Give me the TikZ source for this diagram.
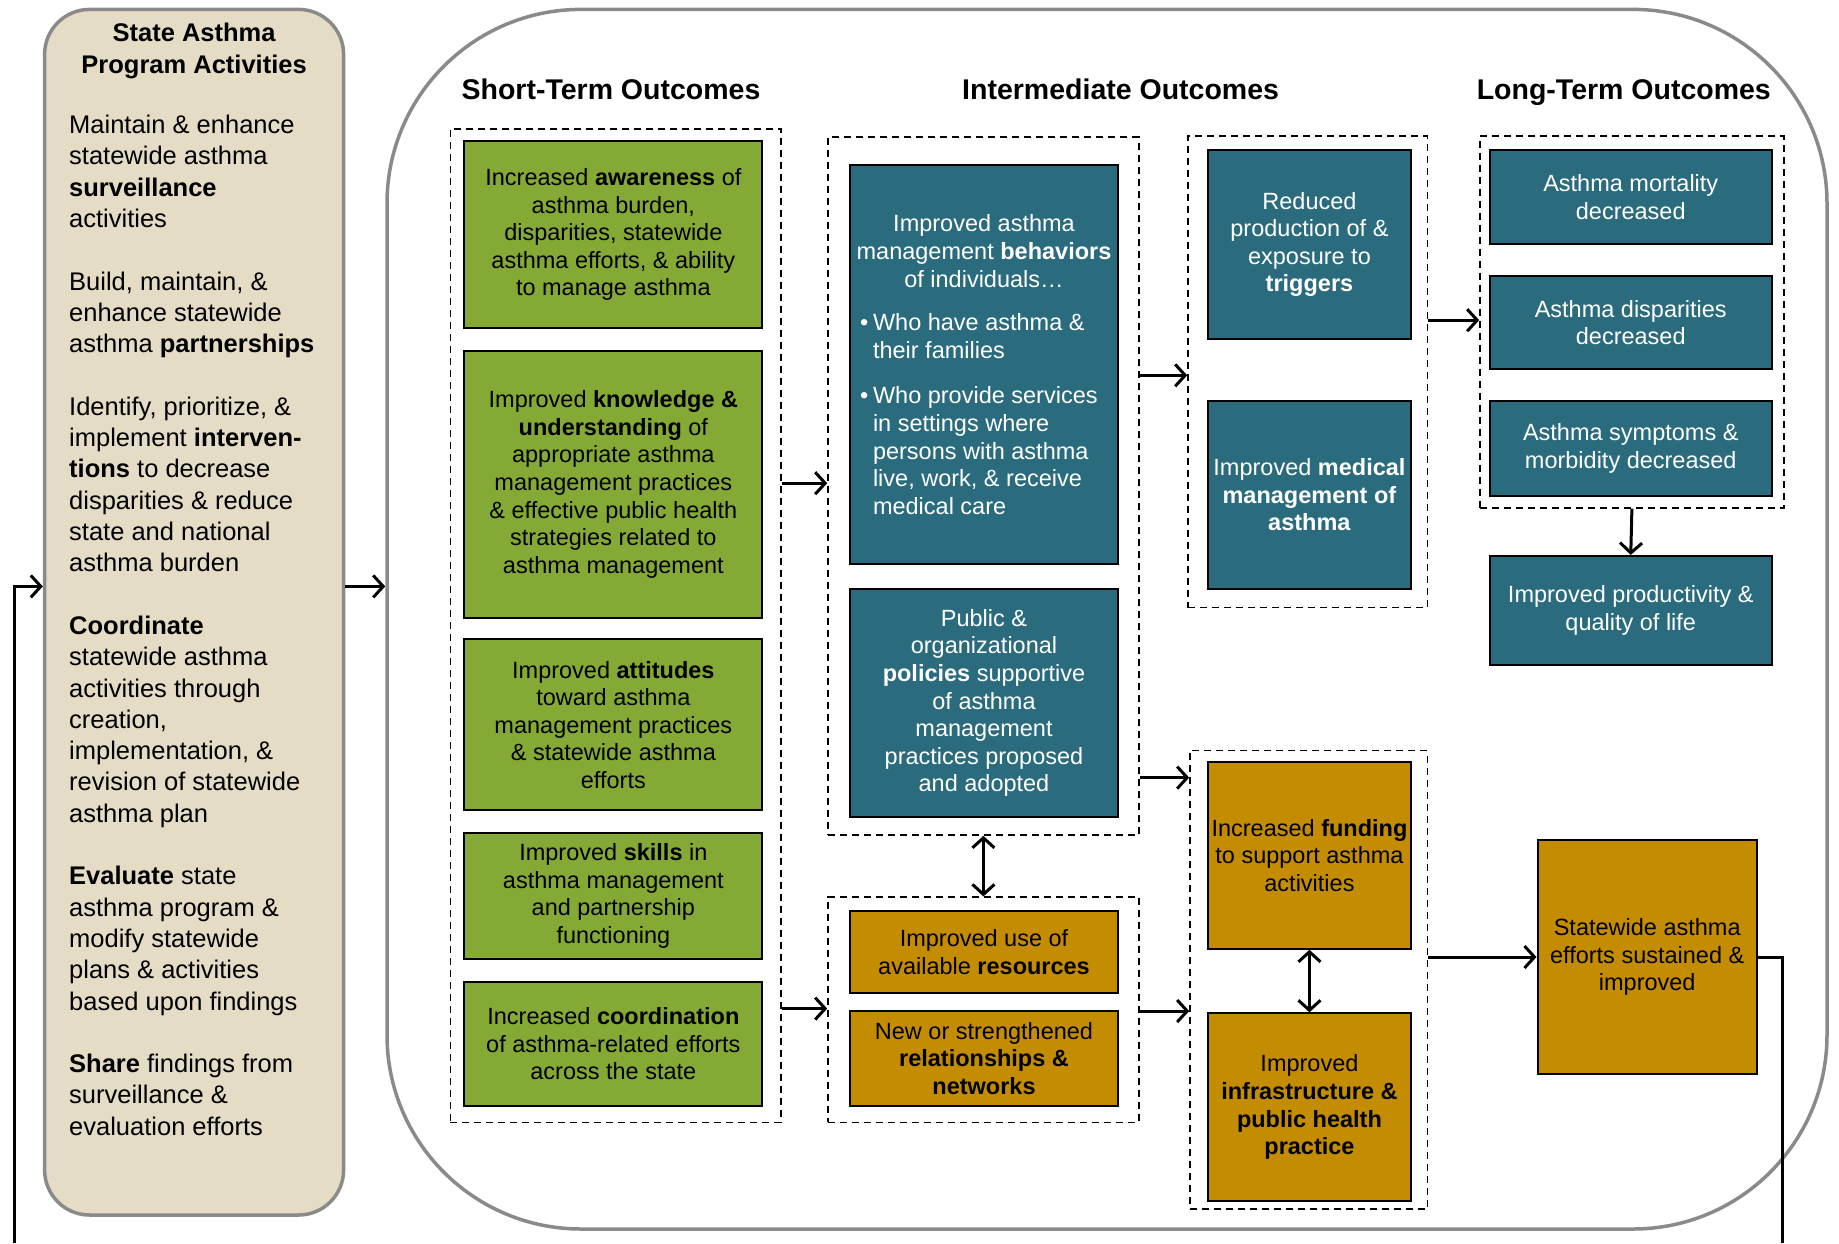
\documentclass[tikz,border=0pt]{standalone}
\usepackage{fontspec}
\setmainfont{Liberation Sans}
\usetikzlibrary{arrows.meta}
\definecolor{grn}{HTML}{85A935}
\definecolor{tealc}{HTML}{2A6C7D}
\definecolor{gold}{HTML}{C48C00}
\definecolor{beige}{HTML}{E5DCC6}
\definecolor{outg}{HTML}{8A8A8A}
\newcommand{\bxf}{\fontsize{23.5}{27.6}\selectfont}
\newcommand{\lpf}{\fontsize{25.5}{31.3}\selectfont}
\newcommand{\ttf}{\fontsize{28.5}{34}\selectfont\bfseries}
\begin{document}
\begin{tikzpicture}[x=1pt,y=-1pt,
  cbox/.style={draw=black, line width=2pt, inner sep=2pt, align=center, font=\bxf},
  gbox/.style={cbox, fill=grn, minimum width=297.9pt},
  tbox/.style={cbox, fill=tealc, text=white},
  obox/.style={cbox, fill=gold},
  dbox/.style={draw=black, line width=1.6pt, dash pattern=on 7pt off 5pt, inner sep=0pt},
  arr/.style={line width=3pt, -{Straight Barb[length=10pt,width=22pt]}},
  darr/.style={line width=3pt, {Straight Barb[length=10pt,width=22pt]}-{Straight Barb[length=10pt,width=22pt]}},
  coltitle/.style={font=\ttf, inner sep=0pt, anchor=base}
]
\useasboundingbox (0,0) rectangle (1839,1243);

% outer and left panels
\node[draw=outg, line width=3.5pt, rounded corners=194pt, minimum width=1440pt, minimum height=1219.6pt, inner sep=0pt] (outer) at (1107,619.2) {};
\node[draw=outg, fill=beige, line width=3.5pt, rounded corners=45pt, minimum width=299pt, minimum height=1205.6pt, inner sep=0pt] (prog) at (194.1,612.2) {};
\node[font=\lpf\bfseries, align=center, inner sep=0pt] (progtitle) at (194.1,51) {State Asthma\\Program Activities};
\node[font=\lpf, align=left, inner sep=0pt, anchor=north west] (progbody) at (69,115) {%
Maintain \& enhance\\
statewide asthma\\
\textbf{surveillance}\\
activities\\[31.3pt]
Build, maintain, \&\\
enhance statewide\\
asthma \textbf{partnerships}\\[31.3pt]
Identify, prioritize, \&\\
implement \textbf{interven-}\\
\textbf{tions} to decrease\\
disparities \& reduce\\
state and national\\
asthma burden\\[31.3pt]
\textbf{Coordinate}\\
statewide asthma\\
activities through\\
creation,\\
implementation, \&\\
revision of statewide\\
asthma plan\\[31.3pt]
\textbf{Evaluate} state\\
asthma program \&\\
modify statewide\\
plans \& activities\\
based upon findings\\[31.3pt]
\textbf{Share} findings from\\
surveillance \&\\
evaluation efforts};

% column titles
\node[coltitle] (sttitle) at (611,99) {Short-Term Outcomes};
\node[coltitle] (imtitle) at (1120.6,99) {Intermediate Outcomes};
\node[coltitle] (lttitle) at (1623.8,99) {Long-Term Outcomes};

% dashed containers
\node[dbox, minimum width=330.7pt, minimum height=993.4pt] (stc) at (615.75,625.7) {};
\node[dbox, minimum width=310.8pt, minimum height=697.8pt] (iltc) at (983.4,486.1) {};
\node[dbox, minimum width=310.8pt, minimum height=225.2pt] (ilbc) at (983.4,1009.8) {};
\node[dbox, minimum width=239.3pt, minimum height=471.5pt] (irtc) at (1307.65,371.75) {};
\node[dbox, minimum width=237.3pt, minimum height=458.6pt] (irbc) at (1308.65,979.9) {};
\node[dbox, minimum width=303.8pt, minimum height=371.8pt] (ltc) at (1631.9,321.9) {};

% short-term boxes
\node[gbox, minimum height=187.7pt] (aware) at (613.35,234.55) {Increased \textbf{awareness} of\\asthma burden,\\disparities, statewide\\asthma efforts, \& ability\\to manage asthma};
\node[gbox, minimum height=267.4pt] (know) at (613.35,484.4) {Improved \textbf{knowledge \&}\\\textbf{understanding} of\\appropriate asthma\\management practices\\\& effective public health\\strategies related to\\asthma management};
\node[gbox, minimum height=171.2pt] (attit) at (613.35,724.8) {Improved \textbf{attitudes}\\toward asthma\\management practices\\\& statewide asthma\\efforts};
\node[gbox, minimum height=126.7pt] (skills) at (613.35,896.05) {Improved \textbf{skills} in\\asthma management\\and partnership\\functioning};
\node[gbox, minimum height=124.4pt] (coord) at (613.35,1043.8) {Increased \textbf{coordination}\\of asthma-related efforts\\across the state};

% intermediate left
\node[tbox, minimum width=267.4pt, minimum height=398.7pt] (behav) at (984,364.75) {\begin{minipage}{262pt}\bxf\centering Improved asthma\\management \textbf{behaviors}\\of individuals…\par\vspace{16pt}
\raggedright\hangindent=20pt\hangafter=1\hspace*{7pt}\makebox[13pt][l]{•}Who have asthma \&\newline their families\par\vspace{18pt}
\hangindent=20pt\hangafter=1\hspace*{7pt}\makebox[13pt][l]{•}Who provide services\newline in settings where\newline persons with asthma\newline live, work, \& receive\newline medical care\par\end{minipage}};
\node[tbox, minimum width=267.4pt, minimum height=228.7pt] (policy) at (984,703.05) {Public \&\\organizational\\\textbf{policies} supportive\\of asthma\\management\\practices proposed\\and adopted};
\node[obox, minimum width=267.4pt, minimum height=82.1pt] (resour) at (984,952.35) {Improved use of\\available \textbf{resources}};
\node[obox, minimum width=267.4pt, minimum height=95pt] (relat) at (984,1058.5) {New or strengthened\\\textbf{relationships \&}\\\textbf{networks}};

% intermediate right
\node[tbox, minimum width=202.9pt, minimum height=188.8pt] (trig) at (1309.45,244.5) {Reduced\\production of \&\\exposure to\\\textbf{triggers}};
\node[tbox, minimum width=202.9pt, minimum height=187.6pt] (medic) at (1309.45,494.9) {Improved \textbf{medical}\\\textbf{management of}\\\textbf{asthma}};
\node[obox, minimum width=202.9pt, minimum height=186.5pt] (fund) at (1309.45,855.55) {Increased \textbf{funding}\\to support asthma\\activities};
\node[obox, minimum width=202.9pt, minimum height=187.7pt] (infra) at (1309.45,1107.15) {Improved\\\textbf{infrastructure \&}\\\textbf{public health}\\\textbf{practice}};

% long-term
\node[tbox, minimum width=282.5pt, minimum height=93.8pt] (mort) at (1630.75,197) {Asthma mortality\\decreased};
\node[tbox, minimum width=282.5pt, minimum height=93.8pt] (disp) at (1630.75,322.5) {Asthma disparities\\decreased};
\node[tbox, minimum width=282.5pt, minimum height=95pt] (sympt) at (1630.75,448.6) {Asthma symptoms \&\\morbidity decreased};
\node[tbox, minimum width=282.5pt, minimum height=109.1pt] (prod) at (1630.75,610.45) {Improved productivity \&\\quality of life};
\node[obox, minimum width=219.4pt, minimum height=234.6pt] (sw) at (1647.2,957) {Statewide asthma\\efforts sustained \&\\improved};

% helper coordinates
\coordinate (hA) at (0,586.4);
\coordinate (hB) at (0,483.2);
\coordinate (hC) at (0,1008.6);
\coordinate (hD) at (0,375.3);
\coordinate (hE) at (0,777.6);
\coordinate (hF) at (0,1011);
\coordinate (hG) at (0,320.2);
\coordinate (fbL) at (14,1243);
\coordinate (fbR) at (1782.7,1243);

% connectors
\draw[arr] (prog.east |- hA) -- (outer.west |- hA);
\draw[arr] (fbL) |- (prog.west |- hA);
\draw[arr] (stc.east |- hB) -- (iltc.west |- hB);
\draw[arr] (stc.east |- hC) -- (ilbc.west |- hC);
\draw[arr] (iltc.east |- hD) -- (irtc.west |- hD);
\draw[arr] (iltc.east |- hE) -- (irbc.west |- hE);
\draw[arr] (ilbc.east |- hF) -- (irbc.west |- hF);
\draw[arr] (irtc.east |- hG) -- (ltc.west |- hG);
\draw[arr] (irbc.east |- sw) -- (sw.west);
\draw[line width=3pt] (sw.east) -| (fbR);
\draw[darr] (iltc.south) -- (ilbc.north);
\draw[darr] (fund.south) -- (infra.north);
\draw[arr] (ltc.south) -- (prod.north);
\end{tikzpicture}
\end{document}
